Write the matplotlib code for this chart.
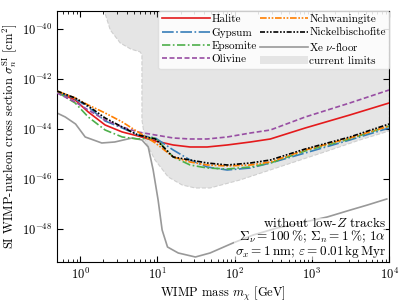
import numpy as np
import matplotlib
matplotlib.use("Agg")
import matplotlib.pyplot as plt
from matplotlib.ticker import FixedLocator, NullLocator, LogLocator, LogFormatterSciNotation
from matplotlib.patches import Patch

plt.rcParams['font.family'] = 'serif'
plt.rcParams['font.serif'] = ['cmr10']
plt.rcParams['mathtext.fontset'] = 'cm'
plt.rcParams['axes.formatter.use_mathtext'] = True
plt.rcParams['axes.unicode_minus'] = False

# WIMP masses [GeV]
mass = [0.5, 0.86, 1.27, 2.1, 3.5, 5.6, 9.4, 16, 26.5, 44, 80, 160, 290, 820, 3100, 10000]

# log10 of sensitivity [cm^2]
halite = [-42.52, -42.84, -43.32, -43.84, -44.12, -44.28, -44.48, -44.64, -44.72, -44.72, -44.64, -44.52, -44.40, -43.96, -43.44, -42.96]
gypsum = [-42.52, -42.80, -43.12, -43.68, -43.96, -44.24, -44.36, -44.84, -45.24, -45.52, -45.64, -45.56, -45.36, -44.96, -44.44, -43.96]
epsomite = [-42.52, -42.96, -43.52, -44.04, -44.32, -44.40, -44.36, -45.12, -45.44, -45.56, -45.60, -45.52, -45.36, -44.88, -44.40, -43.88]
olivine = [-42.56, -42.92, -43.24, -43.64, -43.92, -44.12, -44.24, -44.36, -44.40, -44.40, -44.32, -44.16, -44.04, -43.52, -42.96, -42.44]
nchwaningite = [-42.48, -42.76, -43.04, -43.36, -43.72, -44.12, -44.56, -45.12, -45.32, -45.44, -45.48, -45.44, -45.32, -44.84, -44.36, -43.88]
nickelbischofite = [-42.48, -42.76, -43.08, -43.56, -43.92, -44.24, -44.40, -45.12, -45.24, -45.36, -45.44, -45.36, -45.24, -44.80, -44.32, -43.80]

# Xe neutrino floor
floor_mass = [0.5, 0.64, 0.87, 1.16, 1.9, 2.8, 4.7, 6.3, 7.6, 8.8, 10.2, 11.5, 13.5, 18.6, 31, 48, 95, 174, 355, 708, 1580, 3160, 5250, 9330]
floor_sigma = [-43.36, -43.52, -43.80, -44.32, -44.56, -44.52, -44.36, -44.44, -44.72, -45.64, -46.84, -48.04, -48.72, -48.96, -49.12, -48.96, -48.56, -48.24, -47.96, -47.76, -47.52, -47.24, -47.04, -46.80]

# current limits (lower boundary of excluded region)
limit_mass = [2.0, 2.05, 2.45, 3.3, 4.5, 6.0, 6.3, 6.3, 6.9, 9.3, 13.8, 20.9, 30.9, 47.9, 117, 288, 708, 1740, 4170, 10000]
limit_sigma = [-39.0, -39.28, -40.04, -40.56, -40.80, -40.92, -41.04, -43.64, -44.44, -45.24, -45.92, -46.24, -46.36, -46.36, -46.04, -45.64, -45.24, -44.84, -44.44, -44.08]

fig = plt.figure(figsize=(4.07, 3.05), dpi=100)
ax = fig.add_axes([0.140, 0.141, 0.816, 0.823])

ax.fill_between(limit_mass, 10.0 ** np.array(limit_sigma), 1e-38, facecolor='#e5e5e5',
                edgecolor='#cfcfcf', linestyle='--', linewidth=0.8, zorder=1)

lw = 1.2
ax.plot(mass, 10.0 ** np.array(halite), color='#e41a1c', lw=lw, ls='-', zorder=3)
ax.plot(mass, 10.0 ** np.array(gypsum), color='#377eb8', lw=lw, ls=(0, (7, 1.5, 1, 1.5)), zorder=3)
ax.plot(mass, 10.0 ** np.array(epsomite), color='#4daf4a', lw=lw, ls=(0, (5, 1.5, 1, 1.5)), zorder=3)
ax.plot(mass, 10.0 ** np.array(olivine), color='#984ea3', lw=lw, ls=(0, (3, 1.5)), zorder=3)
ax.plot(mass, 10.0 ** np.array(nchwaningite), color='#ff7f00', lw=lw, ls=(0, (4, 1, 1, 1, 1, 1)), zorder=3)
ax.plot(mass, 10.0 ** np.array(nickelbischofite), color='black', lw=lw, ls=(0, (3, 1, 1, 1, 1, 1)), zorder=3)
ax.plot(floor_mass, 10.0 ** np.array(floor_sigma), color='#999999', lw=lw, ls='-', zorder=2)

ax.set_xscale('log')
ax.set_yscale('log')
ax.set_xlim(0.5, 1e4)
ax.set_ylim(10 ** -49.32, 10 ** -39.28)

ax.yaxis.set_major_locator(FixedLocator([1e-48, 1e-46, 1e-44, 1e-42, 1e-40]))
ax.yaxis.set_major_formatter(LogFormatterSciNotation())
ax.yaxis.set_minor_locator(NullLocator())
ax.xaxis.set_major_locator(LogLocator(base=10))
ax.xaxis.set_minor_locator(LogLocator(base=10, subs=np.arange(2, 10), numticks=20))

ax.tick_params(which='both', direction='in', top=True, right=True, labelsize=9)
ax.tick_params(which='major', length=4)
ax.tick_params(which='minor', length=2)

ax.set_xlabel(r'WIMP mass $m_\chi$ [GeV]', fontsize=9, labelpad=2)
ax.set_ylabel(r'SI WIMP-nucleon cross section $\sigma_n^\mathrm{SI}$ [cm$^2$]', fontsize=9, labelpad=2)

handles = [
    plt.Line2D([], [], color='#e41a1c', lw=lw, ls='-'),
    plt.Line2D([], [], color='#377eb8', lw=lw, ls=(0, (7, 1.5, 1, 1.5))),
    plt.Line2D([], [], color='#4daf4a', lw=lw, ls=(0, (5, 1.5, 1, 1.5))),
    plt.Line2D([], [], color='#984ea3', lw=lw, ls=(0, (3, 1.5))),
    plt.Line2D([], [], color='#ff7f00', lw=lw, ls=(0, (4, 1, 1, 1, 1, 1))),
    plt.Line2D([], [], color='black', lw=lw, ls=(0, (3, 1, 1, 1, 1, 1))),
    plt.Line2D([], [], color='#999999', lw=lw, ls='-'),
    Patch(facecolor='#e5e5e5', edgecolor='none'),
]
labels = ['Halite', 'Gypsum', 'Epsomite', 'Olivine', 'Nchwaningite', 'Nickelbischofite',
          r'Xe $\nu$-floor', 'current limits']
leg = ax.legend(handles, labels, loc='upper right', ncol=2, fontsize=8, handlelength=4.3,
                handletextpad=0.15, columnspacing=0.3, labelspacing=0.3, borderaxespad=0.0,
                borderpad=0.3, frameon=True, fancybox=True, framealpha=0.85, edgecolor='#dddddd')

ax.text(0.99, 0.008,
        'without low-$Z$ tracks\n'
        r'$\Sigma_\nu = 100\,\%$; $\Sigma_n = 1\,\%$; $1\alpha$' '\n'
        r'$\sigma_x = 1\,$nm; $\varepsilon = 0.01\,$kg$\,$Myr',
        transform=ax.transAxes, ha='right', va='bottom', fontsize=9.5, linespacing=0.85,
        multialignment='right', zorder=5,
        bbox=dict(facecolor='white', edgecolor='none', alpha=0.6, pad=0.3))

fig.savefig('out.png', dpi=100)
